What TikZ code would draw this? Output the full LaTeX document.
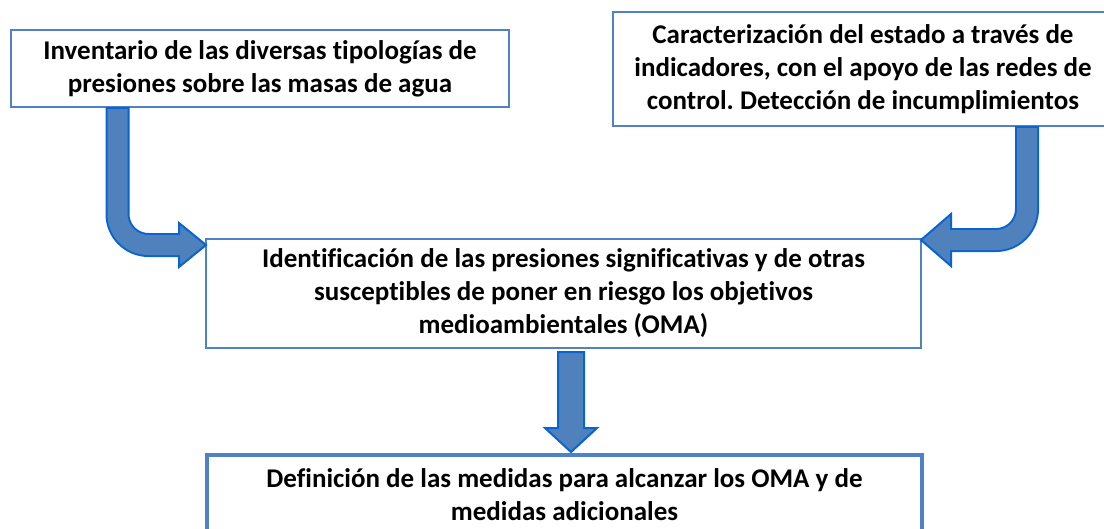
\documentclass[tikz,border=0pt]{standalone}
\usepackage{fontspec}
\setmainfont{Carlito}[Ligatures=NoCommon]
\frenchspacing
\definecolor{boxline}{HTML}{4F81C7}
\definecolor{arrowfill}{HTML}{4F81BD}
\definecolor{arrowedge}{HTML}{0A64CF}
\tikzset{
  stagebox/.style={draw=boxline, line width=2.5pt, fill=white, align=center, inner sep=0pt, outer sep=0pt,
    font=\fontsize{27}{33}\selectfont\bfseries},
  blockline/.style={draw=arrowedge, line width=24pt, rounded corners=31pt},
  blockfill/.style={draw=arrowfill, line width=20pt, rounded corners=31pt},
  blockhead/.style={fill=arrowfill, draw=arrowedge, line width=2pt, line join=miter}
}
\begin{document}
\begin{tikzpicture}[x=1pt, y=-1pt]
  \useasboundingbox (0,0) rectangle (1104,528);
  \clip (0,0) rectangle (1104,528);
  % boxes
  \node[stagebox, minimum width=498pt, minimum height=77pt] (inv) at (260,68.5)
    {Inventario de las diversas tipologías de\\presiones sobre las masas de agua};
  \node[stagebox, minimum width=500pt, minimum height=114pt] (car) at (863,69)
    {Caracterización del estado a través de\\indicadores, con el apoyo de las redes de\\control. Detección de incumplimientos};
  \node[stagebox, minimum width=715pt, minimum height=109pt] (ide) at (563.5,293.5)
    {Identificación de las presiones significativas y de otras\\susceptibles de poner en riesgo los objetivos\\medioambientales (OMA)};
  \node[stagebox, line width=3.5pt, minimum width=715pt, minimum height=80pt] (def) at (564.5,495)
    {Definición de las medidas para alcanzar los OMA y de\\medidas adicionales};
  % bent arrow from the left box
  \coordinate (s1) at ([xshift=106.5pt]inv.south west);
  \coordinate (t1) at ([yshift=-6pt]ide.north west);
  \draw[blockline] (s1) |- ([xshift=-26pt]t1);
  \filldraw[blockhead] ([xshift=-27pt,yshift=22pt]t1) -- (t1) -- ([xshift=-27pt,yshift=-22pt]t1) -- cycle;
  \draw[blockfill] ([yshift=-2pt]s1) |- ([xshift=-25pt]t1);
  % bent arrow from the right box
  \coordinate (s2) at ([xshift=414pt]car.south west);
  \coordinate (t2) at ([yshift=-1pt]ide.north east);
  \draw[blockline] (s2) |- ([xshift=29pt]t2);
  \filldraw[blockhead] ([xshift=30pt,yshift=26pt]t2) -- (t2) -- ([xshift=30pt,yshift=-26pt]t2) -- cycle;
  \draw[blockfill] ([yshift=-2pt]s2) |- ([xshift=28pt]t2);
  % straight arrow down
  \coordinate (s3) at ([xshift=7.5pt,yshift=-4pt]ide.south);
  \coordinate (t3) at ([xshift=6.5pt,yshift=3pt]def.north);
  \filldraw[blockhead] ([xshift=-13pt]s3) -- ([xshift=13pt]s3) -- ([xshift=13pt,yshift=24pt]t3)
    -- ([xshift=26pt,yshift=24pt]t3) -- (t3) -- ([xshift=-26pt,yshift=24pt]t3)
    -- ([xshift=-13pt,yshift=24pt]t3) -- cycle;
\end{tikzpicture}
\end{document}
